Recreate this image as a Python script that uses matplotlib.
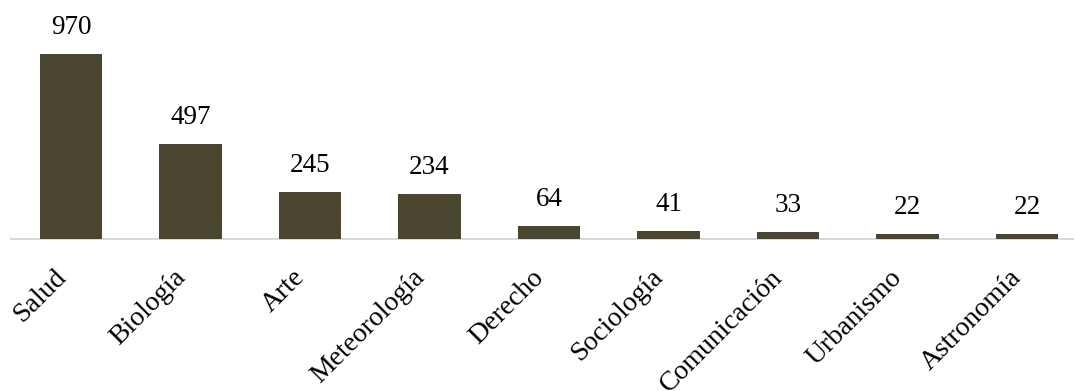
#!/usr/bin/env python3
"""Bar chart of records per discipline"""

import matplotlib
matplotlib.use('Agg')
import matplotlib.pyplot as plt

# --------------------------------------------------
disciplines = ['Salud', 'Biología', 'Arte', 'Meteorología', 'Derecho',
               'Sociología', 'Comunicación', 'Urbanismo', 'Astronomía']
counts = [970, 497, 245, 234, 64, 41, 33, 22, 22]

bar_color = '#4a452e'
axis_color = '#d9d9d9'

plt.rcParams['font.family'] = ['Liberation Serif', 'DejaVu Serif']

W, H = 1074, 391
fig = plt.figure(figsize=(W / 100, H / 100), dpi=100)

# axes placed in pixels (left, baseline, top); the last slot runs past the edge
left_px, base_px, slot_px = 11.25, 238.5, 119.5
ymax = 1100
h_px = ymax * 184.5 / 970
ax = fig.add_axes([left_px / W, (H - base_px) / H,
                   slot_px * len(disciplines) / W, h_px / H])

x = range(len(disciplines))
ax.bar(x, counts, width=0.523, color=bar_color, zorder=2)
ax.set_xlim(-0.5, len(disciplines) - 0.5)
ax.set_ylim(0, ymax)

for xi, v in zip(x, counts):
    ax.annotate(str(v), (xi, v), xytext=(0, 10), textcoords='offset points',
                ha='center', va='bottom', fontsize=19.5)

ax.set_xticks(list(x))
ax.set_xticklabels(disciplines, rotation=45, ha='right', va='top',
                   fontsize=20)
ax.tick_params(axis='x', length=0, pad=19)
ax.set_yticks([])

for s in ('top', 'right', 'left'):
    ax.spines[s].set_visible(False)
ax.spines['bottom'].set_color(axis_color)
ax.spines['bottom'].set_linewidth(1.5)
ax.spines['bottom'].set_zorder(1)

fig.savefig('out.png', dpi=100)
